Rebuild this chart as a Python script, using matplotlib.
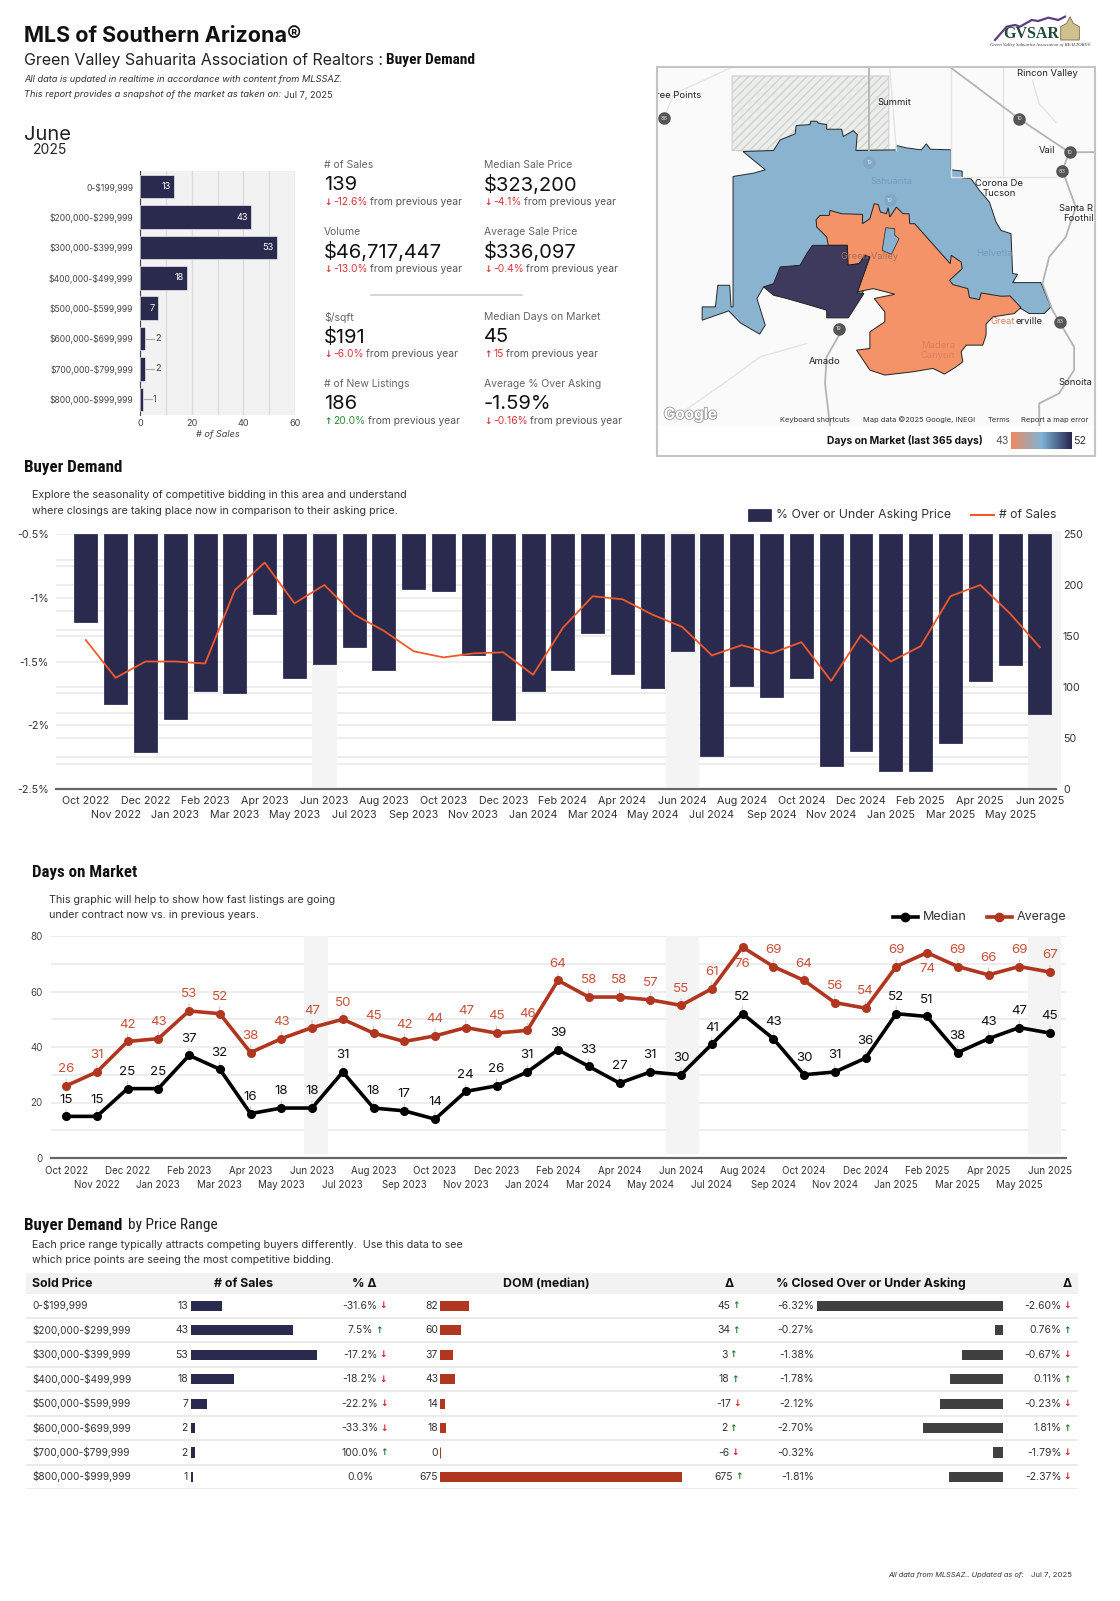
import numpy as np
import matplotlib
matplotlib.use('Agg')
import matplotlib.pyplot as plt
import matplotlib.patheffects as pe
from matplotlib import font_manager
from matplotlib.colors import LinearSegmentedColormap
from matplotlib.patches import Polygon, Rectangle

W, H = 1120, 1601
BODY = ['Inter', 'DejaVu Sans']
plt.rcParams['font.family'] = BODY
plt.rcParams['text.parse_math'] = False

NAVY = '#2a2a4e'
ORANGE = '#f0592a'
BRICK = '#b0361f'
BRICK_TXT = '#c9503c'
RED = '#d9343c'
GREEN = '#2e8b3d'
UP_ARROW = '#1e7a32'
DOWN_ARROW = '#d01c2a'
GRID = '#e8e8e8'
BAND = '#f4f4f4'

# June snapshot
price_ranges = ['0-$199,999', '$200,000-$299,999', '$300,000-$399,999', '$400,000-$499,999',
                '$500,000-$599,999', '$600,000-$699,999', '$700,000-$799,999', '$800,000-$999,999']
sales_june = [13, 43, 53, 18, 7, 2, 2, 1]

kpi_labels = ['# of Sales', 'Median Sale Price', 'Volume', 'Average Sale Price',
              '$/sqft', 'Median Days on Market', '# of New Listings', 'Average % Over Asking']
kpi_values = ['139', '$323,200', '$46,717,447', '$336,097', '$191', '45', '186', '-1.59%']
kpi_deltas = ['-12.6%', '-4.1%', '-13.0%', '-0.4%', '-6.0%', '15', '20.0%', '-0.16%']
kpi_dirs = ['down', 'down', 'down', 'down', 'down', 'up', 'up', 'down']
kpi_delta_cols = [RED, RED, RED, RED, RED, RED, GREEN, RED]

# monthly series
months = ['Oct 2022', 'Nov 2022', 'Dec 2022', 'Jan 2023', 'Feb 2023', 'Mar 2023', 'Apr 2023', 'May 2023',
          'Jun 2023', 'Jul 2023', 'Aug 2023', 'Sep 2023', 'Oct 2023', 'Nov 2023', 'Dec 2023', 'Jan 2024',
          'Feb 2024', 'Mar 2024', 'Apr 2024', 'May 2024', 'Jun 2024', 'Jul 2024', 'Aug 2024', 'Sep 2024',
          'Oct 2024', 'Nov 2024', 'Dec 2024', 'Jan 2025', 'Feb 2025', 'Mar 2025', 'Apr 2025', 'May 2025', 'Jun 2025']
pct_over = [-1.19, -1.83, -2.21, -1.95, -1.73, -1.75, -1.13, -1.63, -1.52, -1.39, -1.57, -0.93, -0.95,
            -1.45, -1.96, -1.73, -1.57, -1.28, -1.60, -1.71, -1.42, -2.24, -1.69, -1.78, -1.63, -2.32,
            -2.20, -2.36, -2.36, -2.14, -1.65, -1.53, -1.91]
sales_month = [146, 109, 125, 125, 123, 195, 222, 182, 200, 171, 155, 135, 129, 133, 134, 112, 158, 189,
               186, 171, 159, 131, 141, 133, 144, 106, 151, 125, 140, 189, 200, 172, 139]
pct_grid = [-0.7, -0.75, -0.9, -1.0, -1.1, -1.25, -1.3, -1.5, -1.7, -1.75, -1.9, -2.0, -2.1, -2.25, -2.3]
dom_median = [15, 15, 25, 25, 37, 32, 16, 18, 18, 31, 18, 17, 14, 24, 26, 31, 39, 33, 27, 31, 30, 41, 52,
              43, 30, 31, 36, 52, 51, 38, 43, 47, 45]
dom_average = [26, 31, 42, 43, 53, 52, 38, 43, 47, 50, 45, 42, 44, 47, 45, 46, 64, 58, 58, 57, 55, 61, 76,
               69, 64, 56, 54, 69, 74, 69, 66, 69, 67]

# price range table
sales_chg = ['-31.6%', '7.5%', '-17.2%', '-18.2%', '-22.2%', '-33.3%', '100.0%', '0.0%']
sales_dir = ['down', 'up', 'down', 'down', 'down', 'down', 'up', None]
dom_range = [82, 60, 37, 43, 14, 18, 0, 675]
dom_chg = ['45', '34', '3', '18', '-17', '2', '-6', '675']
dom_dir = ['up', 'up', 'up', 'up', 'down', 'up', 'down', 'up']
closed_pct = [-6.32, -0.27, -1.38, -1.78, -2.12, -2.70, -0.32, -1.81]
closed_chg = ['-2.60%', '0.76%', '-0.67%', '0.11%', '-0.23%', '1.81%', '-1.79%', '-2.37%']
closed_dir = ['down', 'up', 'down', 'up', 'down', 'up', 'down', 'down']

# map outlines, in map-image units
blue_area = [(308, 303), (400, 300), (420, 268), (465, 250), (468, 225), (510, 222), (512, 212), (530, 212),
             (535, 218), (560, 222), (560, 236), (605, 236), (610, 258), (640, 240), (652, 252), (648, 300),
             (770, 298), (770, 285), (800, 292), (845, 298), (860, 280), (872, 296), (935, 298), (935, 358),
             (968, 362), (968, 382), (995, 385), (1020, 420), (1050, 455), (1070, 515), (1085, 540), (1115, 550),
             (1120, 670), (1135, 672), (1120, 697), (1205, 697), (1235, 770), (1215, 790), (1170, 790), (1145, 775),
             (1050, 770), (1000, 760), (900, 720), (700, 680), (630, 780), (560, 760), (370, 710), (350, 745),
             (375, 825), (358, 852), (300, 818), (265, 782), (185, 810), (185, 770), (225, 770), (232, 705),
             (268, 705), (272, 770), (278, 770), (278, 378), (340, 368), (375, 358)]
orange_area = [(528, 508), (540, 495), (568, 495), (570, 480), (605, 490), (668, 492), (668, 520), (690, 505),
               (703, 460), (715, 462), (722, 485), (740, 490), (745, 472), (750, 500), (770, 470), (790, 490),
               (808, 490), (810, 520), (825, 520), (932, 640), (935, 615), (965, 635), (968, 655), (930, 690),
               (940, 703), (985, 715), (990, 742), (1020, 748), (1025, 728), (1085, 738), (1112, 737), (1145, 772),
               (1125, 790), (1060, 800), (1040, 822), (1040, 855), (1030, 885), (980, 885), (965, 905), (970, 935),
               (950, 950), (915, 972), (880, 955), (820, 965), (735, 975), (690, 960), (650, 900), (690, 895),
               (690, 845), (735, 815), (735, 785), (703, 745), (765, 732), (700, 715), (652, 725), (690, 620),
               (675, 615), (658, 640), (625, 645), (622, 585), (565, 585), (560, 560), (530, 530)]
lake_area = [(738, 532), (765, 535), (765, 555), (778, 565), (755, 612), (727, 600)]
dark_area = [(517, 585), (622, 585), (622, 645), (658, 640), (675, 615), (690, 620), (652, 728), (672, 730),
             (625, 803), (560, 803), (560, 780), (510, 765), (440, 745), (400, 735), (370, 710), (400, 700),
             (420, 650), (480, 645), (500, 610)]
reserve_area = [(275, 76), (747, 76), (747, 298), (275, 300)]
roads = [[(935, 52), (1140, 205), (1290, 305), (1365, 305)],
         [(688, 52), (688, 300)],
         [(1290, 305), (1270, 360), (1310, 470), (1280, 560), (1230, 620), (1210, 700), (1240, 780), (1305, 890),
          (1305, 960), (1260, 1030), (1200, 1060), (1200, 1128)],
         [(600, 850), (560, 920), (555, 1000), (570, 1128)]]
minor_roads = [[(935, 52), (935, 380), (1250, 380)], [(1090, 52), (1090, 380)], [(270, 52), (100, 130), (70, 200)],
               [(500, 880), (360, 920), (250, 1000), (120, 1090)], [(1180, 90), (1200, 160), (1250, 215)],
               [(750, 52), (770, 300)]]
shields = [(70, 203, '86', False), (1140, 205, '10', False), (1292, 305, '10', False), (1270, 362, '83', False),
           (1263, 815, '83', False), (596, 835, '19', False), (688, 335, '19', True), (750, 450, '19', True)]
map_labels = [('Rincon Valley', 1226, 70), ('ree Points', 115, 136), ('Summit', 763, 157), ('Corona De', 1078, 400),
              ('Tucson', 1080, 430), ('Vail', 1225, 300), ('Santa R', 1310, 475), ('Foothil', 1318, 505),
              ('Amado', 555, 935), ('Sonoita', 1308, 998)]
faint_labels = [('Sahuarita', 755, 393, '#6f9fbe'), ('Helvetia', 1065, 610, '#6f9fbe'), ('Green Valley', 688, 620, '#a9735c'),
                ('Madera', 895, 885, '#e07f5c'), ('Canyon', 895, 915, '#e07f5c')]
map_footer = [('Keyboard shortcuts', 525), ('Map data ©2025 Google, INEGI', 838), ('Terms', 1080), ('Report a map error', 1247)]
logo_ridge = [(75, 105), (110, 65), (135, 60), (150, 65), (185, 45), (205, 48), (235, 38), (265, 45), (285, 35)]
logo_dome = [(272, 105), (272, 65), (290, 55), (300, 35), (310, 55), (328, 65), (328, 105)]

fig = plt.figure(figsize=(W / 100, H / 100), dpi=100, facecolor='white')
renderer = fig.canvas.get_renderer()


def pick_head_font():
    # look for any installed condensed bold face, the headings use a narrow display font
    found = [f for f in font_manager.fontManager.ttflist
             if str(f.stretch) in ('condensed', 'semi-condensed', 'extra-condensed', '75', '62', '87')
             or 'Condensed' in f.name or 'Narrow' in f.name]
    for want in ['Roboto Condensed', 'Liberation Sans Narrow', 'Open Sans Condensed', 'Noto Sans Condensed',
                 'Open Sans', 'Noto Sans', 'DejaVu Sans', 'Roboto']:
        for f in found:
            if f.name == want:
                return dict(family=[want], fontstretch=f.stretch)
    return dict(family=['Liberation Sans'])


HEAD_KW = pick_head_font()


def add_ax(l, t, r, b, **kw):
    return fig.add_axes([l / W, 1 - b / H, (r - l) / W, (b - t) / H], **kw)


def bare(ax):
    ax.set_xticks([])
    ax.set_yticks([])
    for s in ax.spines.values():
        s.set_visible(False)
    ax.patch.set_alpha(0)


page = add_ax(0, 0, W, H)
page.set_xlim(0, W)
page.set_ylim(H, 0)
bare(page)


def head(x, y, s, width, weight='bold', color='#111111'):
    # heading whose font size is set so that it spans the given width in pixels
    t = page.text(x, y, s, fontsize=12, fontweight=weight, va='center', color=color, **HEAD_KW)
    t.set_fontsize(12 * width / t.get_window_extent(renderer).width)
    return t


def arrow_part(d, col=None):
    col = col or (UP_ARROW if d == 'up' else DOWN_ARROW)
    return ('↑' if d == 'up' else '↓', col)


def chain(ax, x, y, parts, size, ha='left', gap=1.5):
    # strings laid end to end, each one hung on the previous text; arrows are small and heavy
    def style(s):
        if s in '↑↓':
            return dict(family=['DejaVu Sans'], fontweight='bold', fontsize=size - 1)
        return dict(fontsize=size)
    t = ax.text(x, y, parts[0][0], color=parts[0][1], ha=ha, va='center', **style(parts[0][0]))
    for s, c in parts[1:]:
        t = ax.annotate(s, xy=(1, 0.5), xycoords=t, xytext=(gap, 0), textcoords='offset points',
                        color=c, ha='left', va='center', **style(s))
    return t


def month_ticks(ax, size, pad1, pad2):
    idx = np.arange(len(months))
    ax.set_xticks(idx[::2], months[::2])
    ax.set_xticks(idx[1::2], months[1::2], minor=True)
    ax.tick_params(axis='x', which='major', length=0, pad=pad1, labelsize=size, labelcolor='#333333')
    ax.tick_params(axis='x', which='minor', length=0, pad=pad2, labelsize=size, labelcolor='#333333')


# header
page.text(24, 36, 'MLS of Southern Arizona®', fontsize=15.5, fontweight='bold', va='center', color='#111111')
page.text(24, 60.5, 'Green Valley Sahuarita Association of Realtors : ', fontsize=11.5, va='center', color='#222222')
head(386, 60, 'Buyer Demand', 89)
page.text(24, 79, 'All data is updated in realtime in accordance with content from MLSSAZ.', fontsize=6.65,
          style='italic', va='center', color='#333333')
page.text(24, 94, 'This report provides a snapshot of the market as taken on:', fontsize=6.65, style='italic',
          va='center', color='#333333')
page.text(284, 95, 'Jul 7, 2025', fontsize=6.6, va='center', color='#333333')
page.text(24, 135, 'June', fontsize=14.5, va='center', color='#222222')
page.text(33, 150, '2025', fontsize=10, va='center', color='#222222')

# logo
logo = add_ax(990, 15, 1090, 45)
logo.set_xlim(60, 360)
logo.set_ylim(120, 30)
bare(logo)
logo.plot(*zip(*logo_ridge), color='#5b3f86', lw=1.6)
logo.add_patch(Polygon(logo_dome, fc='#cfc08f', ec='#7d6a3c', lw=0.6))
page.text(1031, 34, 'GVSAR', family=['Liberation Serif'], fontweight='bold', fontsize=11.5, ha='center', va='center',
          color='#1f4a35')
page.text(1040, 44.5, 'Green Valley Sahuarita Association of REALTORS®', family=['Liberation Serif'], fontsize=3.4,
          style='italic', ha='center', va='center', color='#333333')

# June bars
ax = add_ax(140, 171, 295, 415)
ax.set_facecolor('#f2f2f2')
ax.barh(range(8), sales_june, height=0.77, color=NAVY, edgecolor='white', lw=0.4, zorder=3)
ax.set_xlim(0, 60)
ax.set_ylim(7.52, -0.52)
ax.set_yticks(range(8), price_ranges)
ax.set_xticks([0, 20, 40, 60])
ax.set_xticks(range(10, 60, 20), minor=True)
ax.grid(axis='x', which='both', color='#dcdcdc', lw=1, zorder=1)
ax.tick_params(axis='both', which='both', length=0, labelsize=6.6, labelcolor='#444444')
ax.tick_params(axis='y', pad=5, labelsize=6.2)
ax.tick_params(axis='x', pad=3)
for s in ['top', 'right', 'bottom']:
    ax.spines[s].set_visible(False)
ax.spines['left'].set_color('#444444')
ax.set_xlabel('# of Sales', fontsize=6.6, style='italic', color='#444444', labelpad=1)
for i, v in enumerate(sales_june):
    if v >= 7:
        ax.text(v - 1.2, i, str(v), color='white', fontsize=6.6, ha='right', va='center', zorder=4)
    else:
        ax.plot([v + 0.5, v + 3.5], [i, i], color='#aaaaaa', lw=0.8, zorder=4)
        ax.text(v + 3.8, i, str(v), color='#444444', fontsize=6.6, va='center', zorder=4)

# KPI blocks
kpi_x = [324, 484]
kpi_y = [(165, 185, 202), (232, 252, 269), (317, 337, 354), (384, 404, 421)]
for i in range(8):
    x = kpi_x[i % 2]
    y0, y1, y2 = kpi_y[i // 2]
    page.text(x, y0, kpi_labels[i], fontsize=7.5, color='#666666', va='center')
    page.text(x, y1, kpi_values[i], fontsize=14.5, color='#111111', va='center')
    chain(page, x, y2, [arrow_part(kpi_dirs[i], kpi_delta_cols[i]), (kpi_deltas[i], kpi_delta_cols[i]),
                        ('from previous year', '#555555')], 7.4)
page.plot([371, 522], [295, 295], color='#d0d0d0', lw=1.2)

# map
page.add_patch(Rectangle((657, 67), 438, 389, fc='white', ec='#c4c4c4', lw=1.5))
mp = add_ax(658, 68, 1094, 426)
mp.set_xlim(52, 1365)
mp.set_ylim(1128, 52)
bare(mp)
mp.patch.set_alpha(1)
mp.set_facecolor('#fafafa')
for r in minor_roads:
    mp.plot(*zip(*r), color='#e4e4e4', lw=1)
mp.add_patch(Polygon(reserve_area, fc='#ebedea', ec='#d0d2ce', hatch='////', lw=0.8))
for r in roads:
    mp.plot(*zip(*r), color='#b4b4b4', lw=1.3)
mp.add_patch(Polygon(blue_area, fc='#88b2d0', ec='#222222', lw=0.7, alpha=0.98))
mp.add_patch(Polygon(orange_area, fc='#f49268', ec='#222222', lw=0.7))
mp.add_patch(Polygon(lake_area, fc='#88b2d0', ec='#222222', lw=0.5))
mp.add_patch(Polygon(dark_area, fc='#3e3a5e', ec='#222222', lw=0.7))
for x, y, s, faint in shields:
    mp.plot([x], [y], 'o', ms=8, color='#7fa9c6' if faint else '#555555')
    mp.text(x, y, s, color='#dddddd', fontsize=4, ha='center', va='center')
for s, x, y in map_labels:
    mp.text(x, y, s, fontsize=6.8, ha='center', va='center', color='#222222', clip_on=True)
for s, x, y, c in faint_labels:
    mp.text(x, y, s, fontsize=6.8, ha='center', va='center', color=c, clip_on=True)
mp.text(1128, 813, 'Great', fontsize=6.8, ha='right', va='center', color='#e07f5c')
mp.text(1128, 813, 'erville', fontsize=6.8, ha='left', va='center', color='#222222')
mp.text(150, 1093, 'Google', fontsize=11, fontweight='bold', ha='center', va='center', color='white',
        path_effects=[pe.withStroke(linewidth=1.2, foreground='#999999')])
for s, x in map_footer:
    mp.text(x, 1110, s, fontsize=5.4, ha='center', va='center', color='#333333')
page.text(983, 440.5, 'Days on Market (last 365 days)', fontsize=7.4, fontweight='bold', ha='right', va='center', color='#111111')
page.text(1002, 440.5, '43', fontsize=7.6, ha='center', va='center', color='#555555')
page.text(1080, 440.5, '52', fontsize=7.6, ha='center', va='center', color='#333333')
grad = add_ax(1011, 432, 1072, 449)
bare(grad)
grad.imshow(np.linspace(0, 1, 256)[None, :], aspect='auto',
            cmap=LinearSegmentedColormap.from_list('dom', ['#f0885f', '#7fb3d6', '#262650']))

# buyer demand chart
head(24, 467, 'Buyer Demand', 98)
page.text(32, 495, 'Explore the seasonality of competitive bidding in this area and understand', fontsize=7.7, va='center', color='#333333')
page.text(32, 511, 'where closings are taking place now in comparison to their asking price.', fontsize=7.7, va='center', color='#333333')

ax = add_ax(56, 534, 1056, 789)
ax.set_xlim(-1, 32.54)
ax.set_ylim(-2.5, -0.5)
ax.hlines(pct_grid + [-0.5], -1, 32.54, color=GRID, lw=1.1, zorder=1)
for a, b in [(7.58, 8.42), (19.47, 20.57), (31.6, 32.7)]:
    ax.axvspan(a, b, ymin=0.008, ymax=1.01, color=BAND, lw=0, zorder=2, clip_on=False)
ax.bar(range(33), np.array(pct_over) + 0.5, bottom=-0.5, width=0.77, color=NAVY, edgecolor='#1e1e48', lw=0.5, zorder=3)
ax.set_yticks([-0.5, -1, -1.5, -2, -2.5], ['-0.5%', '-1%', '-1.5%', '-2%', '-2.5%'])
ax.tick_params(axis='y', length=0, pad=5, labelsize=7.7, labelcolor='#333333')
month_ticks(ax, 7.7, 5, 15)
for s in ['top', 'left', 'right']:
    ax.spines[s].set_visible(False)
ax.spines['bottom'].set_color('#666666')
ax.spines['bottom'].set_linewidth(1.6)
ax2 = ax.twinx()
ax2.plot(range(33), sales_month, color=ORANGE, lw=1.3, zorder=5)
ax2.set_ylim(0, 250)
ax2.set_yticks([0, 50, 100, 150, 200, 250])
ax2.tick_params(axis='y', length=0, pad=5, labelsize=7.7, labelcolor='#333333')
for s in ax2.spines.values():
    s.set_visible(False)
page.add_patch(Rectangle((748, 509), 23, 12, fc=NAVY, ec='#1e1e48', lw=0.5))
page.text(776, 515, '% Over or Under Asking Price', fontsize=8.85, va='center', color='#333333')
page.plot([971, 994], [515, 515], color=ORANGE, lw=1.5)
page.text(999, 515, '# of Sales', fontsize=8.75, va='center', color='#333333')

# days on market chart
head(32, 872, 'Days on Market', 105.5)
page.text(49, 900, 'This graphic will help to show how fast listings are going', fontsize=7.7, va='center', color='#333333')
page.text(49, 915, 'under contract now vs. in previous years.', fontsize=7.7, va='center', color='#333333')

ax = add_ax(51, 936, 1066, 1158)
ax.set_xlim(-0.49, 32.52)
ax.set_ylim(0, 80)
ax.hlines(range(10, 90, 10), -0.49, 32.52, color=GRID, lw=1.1, zorder=1)
for a, b in [(7.73, 8.52), (19.51, 20.59), (31.28, 32.36)]:
    ax.axvspan(a, b, ymin=0.02, ymax=1, color=BAND, lw=0, zorder=2)
x = np.arange(33)
ax.plot(x, dom_average, '-o', color=BRICK, lw=2.6, ms=5.5, zorder=5)
ax.plot(x, dom_median, '-o', color='black', lw=2.6, ms=5.5, zorder=6)
for i in x:
    for series, col in [(dom_average, BRICK_TXT), (dom_median, '#111111')]:
        v = series[i]
        sign = -1 if v in (76, 74) and col == BRICK_TXT else 1
        ax.annotate('', xy=(i, v), xytext=(0, sign * 7), textcoords='offset points',
                    arrowprops=dict(arrowstyle='-', color='#c4c4c4', lw=0.7), zorder=4)
        ax.annotate(str(v), xy=(i, v), xytext=(0, sign * 12), textcoords='offset points', color=col,
                    fontsize=9.6, ha='center', va='center', zorder=7)
ax.set_yticks(range(0, 100, 20))
ax.tick_params(axis='y', length=0, pad=6, labelsize=7, labelcolor='#444444')
month_ticks(ax, 7, 6, 15.5)
for s in ['top', 'left', 'right']:
    ax.spines[s].set_visible(False)
ax.spines['bottom'].set_color('#666666')
ax.spines['bottom'].set_linewidth(1.6)
page.plot([893, 918], [917, 917], '-', color='black', lw=2.6)
page.plot([905], [917], 'o', color='black', ms=6)
page.text(923, 917, 'Median', fontsize=9, va='center', color='#333333')
page.plot([987, 1012], [917, 917], '-', color=BRICK, lw=2.6)
page.plot([999], [917], 'o', color=BRICK, ms=6)
page.text(1017, 917, 'Average', fontsize=9, va='center', color='#333333')

# price range table
head(24, 1225, 'Buyer Demand', 98)
head(128, 1225, 'by Price Range', 90, weight='normal', color='#222222')
page.text(32, 1245, 'Each price range typically attracts competing buyers differently.  Use this data to see', fontsize=7.7, va='center', color='#333333')
page.text(32, 1260, 'which price points are seeing the most competitive bidding.', fontsize=7.7, va='center', color='#333333')
page.add_patch(Rectangle((25.7, 1273), 1052.3, 21, fc='#f2f2f2', ec='none'))
for s, x, ha in [('Sold Price', 32, 'left'), ('# of Sales', 243.6, 'center'), ('% Δ', 364.6, 'center'),
                 ('DOM (median)', 546, 'center'), ('Δ', 729, 'center'), ('% Closed Over or Under Asking', 871, 'center'),
                 ('Δ', 1067, 'center')]:
    page.text(x, 1283.5, s, fontsize=8.9, fontweight='bold', ha=ha, va='center', color='#111111')

tbl = add_ax(0, 1293.5, W, 1489.2)
tbl.set_xlim(0, W)
tbl.set_ylim(7.5, -0.5)
bare(tbl)
tbl.hlines(np.arange(8) + 0.5, 25.7, 1078, color='#ebebeb', lw=1.4)
for i in range(8):
    tbl.text(32, i, price_ranges[i], fontsize=7.2, va='center', color='#333333')
    tbl.text(188, i, str(sales_june[i]), fontsize=7.5, ha='right', va='center', color='#333333')
    if sales_dir[i]:
        chain(tbl, 360, i, [(sales_chg[i], '#333333'), arrow_part(sales_dir[i])], 7.5, ha='center')
    else:
        tbl.text(360, i, sales_chg[i], fontsize=7.5, ha='center', va='center', color='#333333')
    tbl.text(438, i, str(dom_range[i]), fontsize=7.5, ha='right', va='center', color='#333333')
    chain(tbl, 724, i, [(dom_chg[i], '#333333'), arrow_part(dom_dir[i])], 7.5, ha='center')
    tbl.text(814, i, f'{closed_pct[i]:.2f}%', fontsize=7.5, ha='right', va='center', color='#333333')
    chain(tbl, 1061.4, i, [(closed_chg[i], '#333333'), arrow_part(closed_dir[i])], 7.5, ha='right')

for vals, x0, x1, lim, col in [(sales_june, 190.7, 190.7 + 60 * 2.38, (0, 60), NAVY),
                               (dom_range, 440, 440 + 700 * 0.358, (0, 700), BRICK),
                               (closed_pct, 1002.5 - 7 * 29.35, 1002.5, (-7, 0), '#404040')]:
    bx = add_ax(x0, 1293.5, x1, 1489.2)
    bx.set_xlim(*lim)
    bx.set_ylim(7.5, -0.5)
    bare(bx)
    bx.barh(range(8), vals, height=0.41, color=col)
    if col == BRICK:
        bx.barh(6, 0, height=0.41, edgecolor=col, lw=0.8)

# footer
page.text(888, 1575, 'All data from MLSSAZ.. Updated as of:', fontsize=5.3, style='italic', va='center', color='#333333')
page.text(1031, 1575, 'Jul 7, 2025', fontsize=5.6, va='center', color='#333333')

fig.savefig('out.png', dpi=100)
